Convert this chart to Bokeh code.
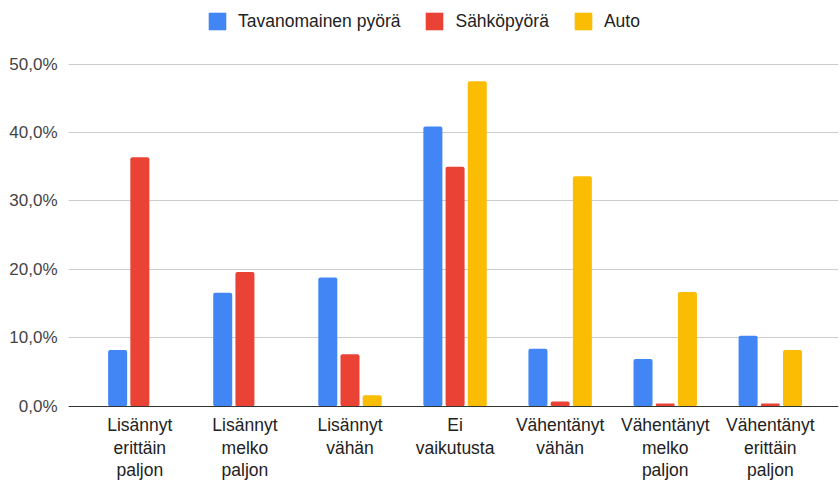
from bokeh.plotting import figure
from bokeh.models import ColumnDataSource, Range1d, FixedTicker, Legend, LegendItem
from bokeh.transform import dodge
from bokeh.embed import file_html
from bokeh.resources import INLINE

categories = ["Lisännyt\nerittäin\npaljon", "Lisännyt\nmelko\npaljon", "Lisännyt\nvähän",
              "Ei\nvaikutusta", "Vähentänyt\nvähän", "Vähentänyt\nmelko\npaljon",
              "Vähentänyt\nerittäin\npaljon"]
series_names = ["Tavanomainen pyörä", "Sähköpyörä", "Auto"]
tavanomainen = [8.2, 16.6, 18.8, 40.9, 8.4, 6.9, 10.3]
sahkopyora = [36.4, 19.6, 7.6, 35.0, 0.7, 0.4, 0.4]
auto = [0.0, 0.0, 1.6, 47.5, 33.6, 16.7, 8.2]
y_ticks = [0, 10, 20, 30, 40, 50]
y_tick_labels = ["0,0%", "10,0%", "20,0%", "30,0%", "40,0%", "50,0%"]
colors = ["#4285F4", "#EA4335", "#FBBC04"]

xs = list(range(len(categories)))
source = ColumnDataSource(dict(x=xs, t=tavanomainen, s=sahkopyora, a=auto))

# frame spans the full canvas height; the x axis is pinned at y = 0
p = figure(width=840, height=481, output_backend="svg", toolbar_location=None,
           x_range=Range1d(-0.679, 6.649), y_range=Range1d(-11.01, 59.31),
           min_border_left=68, min_border_right=2, min_border_top=0, min_border_bottom=0)
p.outline_line_color = None
p.background_fill_color = "white"
p.border_fill_color = "white"

bar_w = 0.181
step = 0.2113
renderers = []
for col, off, c in zip(["t", "s", "a"], [-step, 0, step], colors):
    r = p.vbar(x=dodge("x", off, range=p.x_range), top=col, bottom=0, width=bar_w,
               source=source, fill_color=c, line_color=None, border_radius=2)
    renderers.append(r)

# axes
p.xaxis.fixed_location = 0
p.xaxis.ticker = FixedTicker(ticks=xs)
p.xaxis.major_label_overrides = {i: categories[i] for i in xs}
p.xaxis.axis_line_color = "#333333"
p.xaxis.axis_line_width = 1
p.xaxis.major_tick_line_color = None
p.xaxis.minor_tick_line_color = None
p.xaxis.major_tick_out = 0
p.xaxis.major_tick_in = 0
p.xaxis.major_label_standoff = 9
p.xaxis.major_label_text_font = "Liberation Sans"
p.xaxis.major_label_text_font_size = "17.5px"
p.xaxis.major_label_text_color = "#222222"
p.xaxis.major_label_text_line_height = 1.12

p.yaxis.ticker = FixedTicker(ticks=y_ticks)
p.yaxis.major_label_overrides = {t: l for t, l in zip(y_ticks, y_tick_labels)}
p.yaxis.axis_line_color = None
p.yaxis.major_tick_line_color = None
p.yaxis.minor_tick_line_color = None
p.yaxis.major_tick_out = 0
p.yaxis.major_tick_in = 0
p.yaxis.major_label_standoff = 11
p.yaxis.major_label_text_font = "Liberation Sans"
p.yaxis.major_label_text_font_size = "17px"
p.yaxis.major_label_text_color = "#444444"

p.xgrid.grid_line_color = None
p.ygrid.grid_line_color = "#cccccc"
p.ygrid.grid_line_width = 1

legend = Legend(items=[LegendItem(label=n, renderers=[r]) for n, r in zip(series_names, renderers)],
                orientation="horizontal", location=(138, 448.8),
                glyph_width=22, glyph_height=22, label_standoff=10, spacing=23,
                padding=0, margin=0, border_line_color=None, background_fill_alpha=0,
                label_text_font="Liberation Sans", label_text_font_size="17.5px",
                label_text_color="#222222")
p.add_layout(legend, "center")

open("out.html", "w").write(file_html(p, INLINE))
